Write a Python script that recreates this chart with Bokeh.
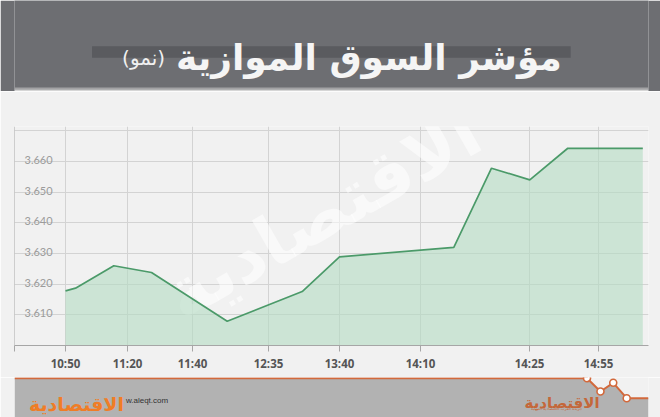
from bokeh.plotting import figure
from bokeh.models import Range1d, FixedTicker, Label, Span
from bokeh.layouts import column
from bokeh.embed import file_html
from bokeh.resources import INLINE
from bokeh.core.properties import value

# ---------------- data ----------------
title_main = "مؤشر السوق الموازية"
title_sub = "(نمو)"
time_labels = ["10:50", "11:20", "11:40", "12:35", "13:40", "14:10", "14:25", "14:55"]
time_tick_pos = [51, 113, 178, 254, 325, 406, 515, 584]
point_pos = [51, 61, 99.3, 137, 212.7, 287.7, 325, 439.3, 477, 515.3, 553.3, 628.3]
index_values = [3.6178, 3.6187, 3.6260, 3.6238, 3.6079, 3.6176, 3.6289, 3.6320,
                3.6578, 3.6540, 3.6643, 3.6643]
y_grid_values = [3.610, 3.620, 3.630, 3.640, 3.650, 3.660, 3.670]
y_label_values = [3.610, 3.620, 3.630, 3.640, 3.650, 3.660]
y_labels = ["3.610", "3.620", "3.630", "3.640", "3.650", "3.660"]
y_base = 3.600
x_end = 634

W = 660
BG = "#f1f1f1"

# ---------------- header ----------------
header = figure(width=W, height=91, x_range=Range1d(0, 660), y_range=Range1d(91, 0),
                output_backend="svg", toolbar_location=None, min_border=0,
                x_axis_location=None, y_axis_location=None,
                background_fill_color="#6d6e72", border_fill_color="#6d6e72",
                outline_line_color=None)
header.grid.visible = False
header.quad(left=[80.7], right=[579], top=[45.7], bottom=[57.3], fill_color="#5a5b5f", line_color=None)
header.quad(left=[0], right=[660], top=[87], bottom=[89], fill_color="#a2a2a4", line_color=None)
header.quad(left=[0], right=[660], top=[89], bottom=[91], fill_color="#d6d6d6", line_color=None)
header.text(x=[168], y=[57], text=[title_main], text_align="left", text_baseline="alphabetic",
            text_font=value("DejaVu Sans"), text_font_style="bold", text_font_size="36px",
            text_color="#f5f5f5")
header.text(x=[112], y=[57], text=[title_sub], text_align="left", text_baseline="alphabetic",
            text_font=value("DejaVu Sans"), text_font_size="20px", text_color="#f0f0f0")

# ---------------- chart ----------------
p = figure(width=W, height=286, x_range=Range1d(0, x_end), y_range=Range1d(y_base, 3.6714),
           output_backend="svg", toolbar_location=None,
           min_border_left=14, min_border_right=12, min_border_top=35, min_border_bottom=32,
           y_axis_location=None,
           background_fill_color=BG, border_fill_color=BG, outline_line_color=None)

wm = Label(x=308, y=132, x_units="screen", y_units="screen", text="الاقتصادية", angle=0.52,
           text_align="center", text_baseline="middle", text_font="DejaVu Sans",
           text_font_style="bold", text_font_size="70px", text_color="white", text_alpha=0.55,
           level="underlay")
p.add_layout(wm)

p.xgrid.ticker = FixedTicker(ticks=time_tick_pos)
p.ygrid.ticker = FixedTicker(ticks=y_grid_values)
p.grid.grid_line_color = "#d3d3d3"
p.grid.grid_line_width = 1

p.varea(x=point_pos, y1=y_base, y2=index_values, fill_color="#b5dcc4", fill_alpha=0.62)
p.line(x=point_pos, y=index_values, line_color="#4b9a69", line_width=1.7)

p.add_layout(Span(location=0, dimension="height", line_color="#a6a6a6", line_width=1))

p.text(x=[0] * len(y_labels), y=y_label_values, text=y_labels, x_offset=10, y_offset=-1.5,
       text_align="left", text_baseline="alphabetic", text_font=value("Lato"),
       text_font_size="11px", text_color="#9b9b9b")

xa = p.xaxis[0]
xa.ticker = FixedTicker(ticks=[0] + time_tick_pos)
overrides = {0: ""}
for pos, lab in zip(time_tick_pos, time_labels):
    overrides[pos] = lab
xa.major_label_overrides = overrides
xa.axis_line_color = "#a6a6a6"
xa.major_tick_line_color = "#a6a6a6"
xa.major_tick_out = 6
xa.major_tick_in = 0
xa.minor_tick_line_color = None
xa.major_label_standoff = 4
xa.major_label_text_font = "Open Sans"
xa.major_label_text_font_style = "bold"
xa.major_label_text_font_size = "11.5px"
xa.major_label_text_color = "#555555"

# ---------------- footer ----------------
footer = figure(width=W, height=40, x_range=Range1d(0, 660), y_range=Range1d(417, 377),
                output_backend="svg", toolbar_location=None, min_border=0,
                x_axis_location=None, y_axis_location=None,
                background_fill_color=BG, border_fill_color=BG, outline_line_color=None)
footer.grid.visible = False
zx = [0, 596, 610, 623.3, 637.3, 660]
zy = [377.7, 377.7, 391, 382.3, 397.7, 397.7]
footer.patch(x=zx + [660, 0], y=zy + [417, 417], fill_color="#b2b2b2", line_color=None)
footer.line(x=zx, y=zy, line_color="#d2693c", line_width=2)
footer.scatter(x=zx[1:5], y=zy[1:5], size=7, fill_color="white", line_color="#d2693c", line_width=1.6)
footer.text(x=[15], y=[403], text=["الاقتصادية"], text_align="left", text_baseline="alphabetic",
            text_font=value("DejaVu Sans"), text_font_style="bold", text_font_size="19px",
            text_color="#f07d26")
footer.text(x=[116], y=[400], text=["w.aleqt.com"], text_align="left", text_baseline="middle",
            text_font=value("Liberation Sans"), text_font_size="8px", text_color="#333333")
footer.text(x=[531], y=[402], text=["الاقتصادية"], text_align="left", text_baseline="alphabetic",
            text_font=value("DejaVu Sans"), text_font_style="bold", text_font_size="15px",
            text_color="#c4673a")
footer.text(x=[591], y=[408], text=["جريدة العرب الاقتصادية الدولية"], text_align="right",
            text_baseline="middle", text_font=value("DejaVu Sans"), text_font_size="4px",
            text_color="#c4673a")

layout = column(header, p, footer, spacing=0)
open("out.html", "w").write(file_html(layout, INLINE))
